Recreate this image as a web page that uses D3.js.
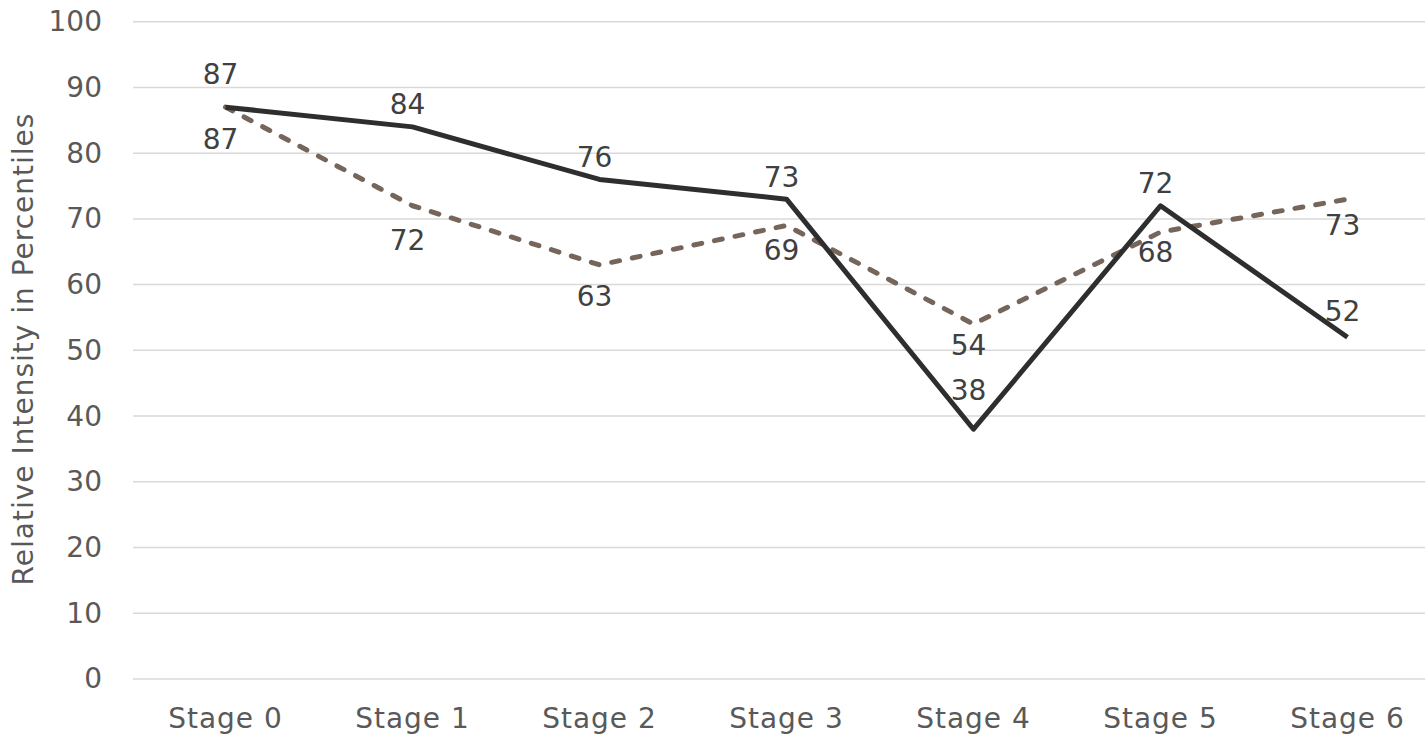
<!DOCTYPE html>
<html>
<head>
<meta charset="utf-8">
<script src="https://cdn.jsdelivr.net/npm/d3@7"></script>
<style>
  body { margin: 0; background: #fff; }
  svg text { font-family: "Century Gothic", "DejaVu Sans", "Open Sans", sans-serif; }
</style>
</head>
<body>
<svg id="chart" width="1425" height="740"></svg>
<script>
// chart values
var stages = ["Stage 0", "Stage 1", "Stage 2", "Stage 3", "Stage 4", "Stage 5", "Stage 6"];
var solidValues = [87, 84, 76, 73, 38, 72, 52];
var dashedValues = [87, 72, 63, 69, 54, 68, 73];
var yTicks = [0, 10, 20, 30, 40, 50, 60, 70, 80, 90, 100];

// labels were hand placed in the original, so a small nudge per point
var solidNudge = [-11, 0, 0, 0, -17, 0, -4];
var dashedNudge = [8, 11, 8, 1, -3, -4, 2];

var svg = d3.select("#chart");

/* plot area, the right side runs off the picture like the original */
var plotLeft = 132, plotRight = 1441, plotTop = 21.7, plotBottom = 679;

var x = d3.scaleBand().domain(stages).range([plotLeft, plotRight]);
var y = d3.scaleLinear().domain([0, 100]).range([plotBottom, plotTop]);
var cx = function(s) { return x(s) + x.bandwidth() / 2; };

// gridlines
svg.append("g").selectAll("line").data(yTicks).enter().append("line")
  .attr("x1", plotLeft + 1).attr("x2", plotRight)
  .attr("y1", function(d) { return y(d); }).attr("y2", function(d) { return y(d); })
  .attr("stroke", "#d9d9d9").attr("stroke-width", 1.5);

// y axis labels
var yAxis = d3.axisLeft(y).tickValues(yTicks).tickSize(0).tickPadding(0);
var gy = svg.append("g").attr("transform", "translate(102,0)").call(yAxis);
gy.select(".domain").remove();
gy.selectAll("text").attr("fill", "#595959").style("font-size", "28px")
  .style("font-family", "'Century Gothic', 'DejaVu Sans', sans-serif");

// x axis labels
var xAxis = d3.axisBottom(x).tickSize(0).tickPadding(0);
var gx = svg.append("g").attr("transform", "translate(0,708)").call(xAxis);
gx.select(".domain").remove();
gx.selectAll("text").attr("fill", "#595959").style("font-size", "28px")
  .style("letter-spacing", "1px")
  .style("font-family", "'Century Gothic', 'DejaVu Sans', sans-serif");

// axis title
svg.append("text")
  .attr("transform", "translate(33,349) rotate(-90)")
  .attr("text-anchor", "middle")
  .attr("fill", "#595959").style("font-size", "28px")
  .style("letter-spacing", "1px")
  .text("Relative Intensity in Percentiles");

function series(values, nudge, color, dash, labelDy) {
  var pts = values.map(function(v, i) { return { s: stages[i], v: v, n: nudge[i] }; });
  var line = d3.line().x(function(d) { return cx(d.s); }).y(function(d) { return y(d.v); });
  svg.append("path").datum(pts)
    .attr("d", line)
    .attr("fill", "none")
    .attr("stroke", color)
    .attr("stroke-width", 5)
    .attr("stroke-linejoin", "round")
    .attr("stroke-linecap", dash ? "round" : "butt")
    .attr("stroke-dasharray", dash || null);
  svg.append("g").selectAll("text").data(pts).enter().append("text")
    .attr("x", function(d) { return cx(d.s) - 5; })
    .attr("y", function(d) { return y(d.v) + labelDy + d.n; })
    .attr("text-anchor", "middle")
    .attr("dominant-baseline", "central")
    .attr("fill", "#404040").style("font-size", "28px")
    .text(function(d) { return d.v; });
}

series(dashedValues, dashedNudge, "#76655b", "8,13", 24);
series(solidValues, solidNudge, "#2e2e2e", null, -22);
</script>
</body>
</html>
